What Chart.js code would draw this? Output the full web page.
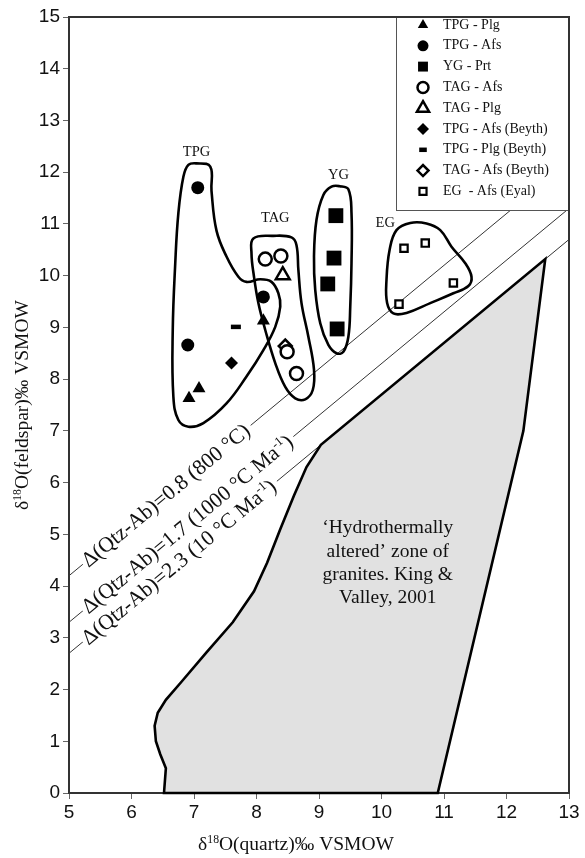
<!DOCTYPE html>
<html>
<head>
<meta charset="utf-8">
<script src="https://cdn.jsdelivr.net/npm/chart.js@4/dist/chart.umd.min.js"></script>
<style>
  html, body { margin: 0; padding: 0; background: #fff; }
  canvas { display: block; }
</style>
</head>
<body>
<canvas id="chart" width="585" height="858"></canvas>
<script>
// ---- axis ranges (δ18O, ‰ VSMOW) ----
const qtzRange = [5, 13];
const fspRange = [0, 15];

// ---- mineral pairs: quartz (x) vs feldspar (y) ----
const seriesNames = ['TPG - Plg', 'TPG - Afs', 'YG - Prt', 'TAG - Afs', 'TAG - Plg',
  'TPG - Afs (Beyth)', 'TPG - Plg (Beyth)', 'TAG - Afs (Beyth)', 'EG  - Afs (Eyal)'];

const tpgPlgQtz = [6.92, 7.08, 8.11];
const tpgPlgFsp = [7.63, 7.82, 9.13];
const tpgAfsQtz = [7.06, 8.11, 6.90];
const tpgAfsFsp = [11.70, 9.59, 8.66];
const ygPrtQtz = [9.27, 9.24, 9.14, 9.29];
const ygPrtFsp = [11.16, 10.34, 9.84, 8.97];
const tagAfsQtz = [8.14, 8.39, 8.49, 8.64];
const tagAfsFsp = [10.32, 10.38, 8.53, 8.11];
const tagPlgQtz = [8.42];
const tagPlgFsp = [10.01];
const tpgAfsBeythQtz = [7.60];
const tpgAfsBeythFsp = [8.31];
const tpgPlgBeythQtz = [7.67];
const tpgPlgBeythFsp = [9.01];
const tagAfsBeythQtz = [8.46];
const tagAfsBeythFsp = [8.64];
const egAfsEyalQtz = [10.36, 10.70, 11.15, 10.28];
const egAfsEyalFsp = [10.53, 10.63, 9.86, 9.45];

// ---- group envelopes (closed outlines) ----
const tpgEnvQtz = [7.04, 7.26, 7.28, 7.36, 7.52, 7.71, 7.84, 8.06, 8.24, 8.35, 8.38, 8.30, 8.11, 7.84, 7.52, 7.15, 6.91, 6.75, 6.67, 6.66, 6.70, 6.75, 6.83, 6.91];
const tpgEnvFsp = [12.17, 12.11, 11.64, 10.87, 10.37, 9.98, 9.88, 9.93, 9.88, 9.66, 9.40, 9.01, 8.56, 8.05, 7.53, 7.15, 7.08, 7.21, 7.66, 8.95, 10.24, 11.21, 11.91, 12.14];
const tagEnvQtz = [7.95, 8.27, 8.56, 8.64, 8.67, 8.72, 8.83, 8.92, 8.90, 8.78, 8.62, 8.46, 8.30, 8.14, 8.03, 7.96, 7.92];
const tagEnvFsp = [10.72, 10.77, 10.74, 10.59, 10.11, 9.47, 8.82, 8.18, 7.79, 7.61, 7.63, 7.85, 8.31, 8.95, 9.47, 9.98, 10.43];
const ygEnvQtz = [9.33, 9.47, 9.52, 9.52, 9.50, 9.47, 9.39, 9.28, 9.15, 9.02, 8.94, 8.92, 8.96, 9.07, 9.20];
const ygEnvFsp = [11.73, 11.67, 11.21, 10.24, 9.40, 8.82, 8.53, 8.50, 8.66, 9.08, 9.72, 10.37, 11.08, 11.56, 11.72];
const egEnvQtz = [10.24, 10.46, 10.72, 10.94, 11.12, 11.34, 11.44, 11.39, 11.15, 10.78, 10.40, 10.19, 10.09, 10.08, 10.13];
const egEnvFsp = [10.88, 11.02, 11.01, 10.88, 10.56, 10.24, 9.98, 9.80, 9.66, 9.47, 9.28, 9.27, 9.47, 9.92, 10.50];
const groupNames = ['TPG', 'TAG', 'YG', 'EG'];

// ---- hydrothermally altered field (King & Valley, 2001) ----
const alteredQtz = [6.52, 6.55, 6.46, 6.39, 6.37, 6.42, 6.55, 6.80, 7.20, 7.62, 7.96, 8.17, 8.38, 8.60, 8.80, 9.03, 12.62, 12.27, 10.90];
const alteredFsp = [0, 0.48, 0.75, 1.00, 1.30, 1.55, 1.80, 2.15, 2.72, 3.30, 3.90, 4.45, 5.10, 5.75, 6.30, 6.73, 10.32, 7.00, 0];
const alteredText = ['\u2018Hydrothermally', 'altered\u2019 zone of', 'granites. King &', 'Valley, 2001'];

// ---- equilibrium fractionation lines Δ(Qtz-Ab) ----
const deltaQtzAb = [0.8, 1.7, 2.3];
const deltaNotes = ['(800 \u00B0C)', '(1000 \u00B0C Ma', '(10 \u00B0C Ma'];

// ---------------------------------------------------------------
const SERIF = '"Liberation Serif", "Times New Roman", serif';
const SANS = '"Liberation Sans", Arial, sans-serif';
const pts = (xs, ys) => xs.map((x, i) => ({ x, y: ys[i] }));

// line controller that closes its path (and can fill the inside)
class LoopController extends Chart.LineController {
  update(mode) {
    super.update(mode);
    const line = this._cachedMeta.dataset;
    line._loop = true;
    line._fullLoop = true;
    delete line._segments;
    delete line._path;
    line._pointsUpdated = false;
  }
  draw() {
    const meta = this._cachedMeta;
    const fillColor = this.getDataset().areaColor;
    if (fillColor) {
      const ctx = this.chart.ctx;
      meta.dataset.updateControlPoints(this.chart.chartArea, meta.iScale.axis);
      ctx.save();
      ctx.beginPath();
      meta.dataset.path(ctx);
      ctx.closePath();
      ctx.fillStyle = fillColor;
      ctx.fill();
      ctx.restore();
    }
    super.draw();
  }
}
LoopController.id = 'loop';
LoopController.defaults = Object.assign({}, Chart.LineController.defaults);
Chart.register(LoopController);

// marker look for each series
const markers = [
  { pointStyle: 'triangle', radius: 7.5, fill: '#000', bw: 0, legendR: 6 },
  { pointStyle: 'circle', radius: 6.5, fill: '#000', bw: 0, legendR: 5.5 },
  { pointStyle: 'rect', radius: 10.5, fill: '#000', bw: 0, legendR: 7 },
  { pointStyle: 'circle', radius: 6.5, fill: '#fff', bw: 2.5, legendR: 5.5 },
  { pointStyle: 'triangle', radius: 8, fill: '#fff', bw: 2.5, legendR: 7 },
  { pointStyle: 'rectRot', radius: 6.5, fill: '#000', bw: 0, legendR: 6 },
  { pointStyle: 'line', radius: 5, fill: '#000', bw: 4.5, legendR: 3.8 },
  { pointStyle: 'rectRot', radius: 6.5, fill: '#fff', bw: 2.5, legendR: 5.5 },
  { pointStyle: 'rect', radius: 5.2, fill: '#fff', bw: 2.2, legendR: 5 }
];
const seriesData = [
  pts(tpgPlgQtz, tpgPlgFsp), pts(tpgAfsQtz, tpgAfsFsp), pts(ygPrtQtz, ygPrtFsp),
  pts(tagAfsQtz, tagAfsFsp), pts(tagPlgQtz, tagPlgFsp), pts(tpgAfsBeythQtz, tpgAfsBeythFsp),
  pts(tpgPlgBeythQtz, tpgPlgBeythFsp), pts(tagAfsBeythQtz, tagAfsBeythFsp), pts(egAfsEyalQtz, egAfsEyalFsp)
];

const datasets = [];
seriesNames.forEach((name, i) => {
  const m = markers[i];
  datasets.push({
    type: 'scatter', label: name, data: seriesData[i], order: 0,
    pointStyle: m.pointStyle, pointRadius: m.radius, pointHoverRadius: m.radius,
    pointBackgroundColor: m.fill, pointBorderColor: '#000', pointBorderWidth: m.bw,
    pointHoverBorderWidth: m.bw
  });
});
[[tpgEnvQtz, tpgEnvFsp], [tagEnvQtz, tagEnvFsp], [ygEnvQtz, ygEnvFsp], [egEnvQtz, egEnvFsp]].forEach((e, i) => {
  datasets.push({
    type: 'loop', label: groupNames[i], data: pts(e[0], e[1]), order: 1,
    borderColor: '#000', borderWidth: 2.6, tension: 0.4, pointRadius: 0, fill: false, clip: false
  });
});
datasets.push({
  type: 'loop', label: 'altered', data: pts(alteredQtz, alteredFsp), order: 2,
  borderColor: '#000', borderWidth: 2.6, tension: 0, pointRadius: 0, fill: false,
  areaColor: '#e1e1e1', clip: false
});
deltaQtzAb.forEach(d => {
  datasets.push({
    type: 'line', label: 'delta ' + d, order: 3,
    data: [{ x: qtzRange[0], y: qtzRange[0] - d }, { x: qtzRange[1], y: qtzRange[1] - d }],
    borderColor: '#333', borderWidth: 1, pointRadius: 0, fill: false
  });
});

// text made of plain and superscript parts, drawn on an alphabetic baseline
function partsWidth(ctx, parts, size) {
  let w = 0;
  for (const p of parts) {
    ctx.font = (p.sup ? size * 0.6 : size) + 'px ' + SERIF;
    w += ctx.measureText(p.t).width;
  }
  return w;
}
function drawParts(ctx, parts, x, y, size) {
  let cx = x;
  for (const p of parts) {
    ctx.font = (p.sup ? size * 0.6 : size) + 'px ' + SERIF;
    ctx.fillText(p.t, cx, p.sup ? y - size * 0.38 : y);
    cx += ctx.measureText(p.t).width;
  }
}

const decorations = {
  id: 'decorations',
  afterDatasetsDraw(chart) {
    const ctx = chart.ctx;
    const xs = chart.scales.x, ys = chart.scales.y;
    ctx.save();
    ctx.textAlign = 'left';
    ctx.textBaseline = 'alphabetic';
    ctx.fillStyle = '#111';

    // labels along the Δ lines
    const size = 21.5;
    const labels = deltaQtzAb.map((d, i) => {
      const parts = [{ t: '\u0394(Qtz-Ab)=' + d.toFixed(1) + ' ' + deltaNotes[i] }];
      if (i > 0) parts.push({ t: '-1', sup: true });
      if (i > 0) parts.push({ t: ')' });
      const x0 = 5.22;
      const px = xs.getPixelForValue(x0), py = ys.getPixelForValue(x0 - d);
      const ang = Math.atan2(ys.getPixelForValue(x0 + 1 - d) - py, xs.getPixelForValue(x0 + 1) - px);
      return { parts, px, py, ang, w: partsWidth(ctx, parts, size) };
    });
    labels.forEach(l => {
      ctx.save();
      ctx.translate(l.px, l.py);
      ctx.rotate(l.ang);
      ctx.fillStyle = '#fff';
      ctx.fillRect(0, -10, l.w + 6, 20);
      ctx.restore();
    });
    labels.forEach(l => {
      ctx.save();
      ctx.translate(l.px, l.py);
      ctx.rotate(l.ang);
      ctx.fillStyle = '#111';
      drawParts(ctx, l.parts, 2, size * 0.3, size);
      ctx.restore();
    });

    // group names
    const groupAt = [[7.04, 12.39], [8.30, 11.11], [9.31, 11.95], [10.06, 11.01]];
    ctx.font = '14.5px ' + SERIF;
    ctx.textAlign = 'center';
    ctx.textBaseline = 'middle';
    groupNames.forEach((g, i) => {
      ctx.fillText(g, xs.getPixelForValue(groupAt[i][0]), ys.getPixelForValue(groupAt[i][1]));
    });

    // caption inside the altered field
    ctx.font = '19.5px ' + SERIF;
    const cx = xs.getPixelForValue(10.1), cy = ys.getPixelForValue(5.12);
    alteredText.forEach((t, i) => ctx.fillText(t, cx, cy + i * 23.3));
    ctx.restore();
  },
  afterDraw(chart) {
    const ctx = chart.ctx;
    const a = chart.chartArea;
    ctx.save();

    // legend box in the upper right corner
    const bw = 173, bh = 193;
    const bx = a.right - bw, by = a.top;
    ctx.fillStyle = '#fff';
    ctx.fillRect(bx, by, bw, bh);
    ctx.strokeStyle = '#555';
    ctx.lineWidth = 1;
    ctx.strokeRect(bx + 0.5, by + 0.5, bw, bh);
    seriesNames.forEach((name, i) => {
      const m = markers[i];
      const y = by + 8 + i * 20.8;
      ctx.fillStyle = m.fill;
      ctx.strokeStyle = '#000';
      ctx.lineWidth = m.bw;
      Chart.helpers.drawPoint(ctx, { pointStyle: m.pointStyle, radius: m.legendR, borderWidth: m.bw, rotation: 0 }, bx + 27, y);
      ctx.fillStyle = '#111';
      ctx.font = '14px ' + SERIF;
      ctx.textAlign = 'left';
      ctx.textBaseline = 'middle';
      ctx.fillText(name, bx + 47, y);
    });

    // top and right frame
    ctx.strokeStyle = '#333';
    ctx.lineWidth = 2;
    ctx.beginPath();
    ctx.moveTo(a.left, a.top);
    ctx.lineTo(a.right, a.top);
    ctx.lineTo(a.right, a.bottom);
    ctx.stroke();

    // axis titles
    ctx.fillStyle = '#111';
    ctx.textAlign = 'left';
    ctx.textBaseline = 'alphabetic';
    const tsize = 19.5;
    const xt = [{ t: '\u03B4' }, { t: '18', sup: true }, { t: 'O(quartz)\u2030 VSMOW' }];
    const xw = partsWidth(ctx, xt, tsize);
    drawParts(ctx, xt, 296 - xw / 2, 850, tsize);
    const yt = [{ t: '\u03B4' }, { t: '18', sup: true }, { t: 'O(feldspar)\u2030 VSMOW' }];
    const yw = partsWidth(ctx, yt, tsize);
    ctx.translate(28, (a.top + a.bottom) / 2);
    ctx.rotate(-Math.PI / 2);
    drawParts(ctx, yt, -yw / 2, 0, tsize);
    ctx.restore();
  }
};

const tickFont = { family: SANS, size: 19 };
new Chart(document.getElementById('chart'), {
  type: 'scatter',
  data: { datasets },
  options: {
    responsive: false,
    animation: false,
    devicePixelRatio: 1,
    events: [],
    layout: { padding: { top: 17, right: 16, left: 0, bottom: 0 } },
    plugins: { legend: { display: false }, tooltip: { enabled: false } },
    scales: {
      x: {
        type: 'linear', min: qtzRange[0], max: qtzRange[1],
        afterFit(scale) { scale.height = 65; },
        ticks: { stepSize: 1, font: tickFont, color: '#111', padding: 2, maxRotation: 0, autoSkip: false },
        grid: { drawOnChartArea: false, drawTicks: true, tickLength: 6, color: '#666', lineWidth: 1 },
        border: { display: true, color: '#333', width: 2 }
      },
      y: {
        type: 'linear', min: fspRange[0], max: fspRange[1],
        afterFit(scale) { scale.width = 69; },
        ticks: { stepSize: 1, font: tickFont, color: '#111', padding: 3, autoSkip: false },
        grid: { drawOnChartArea: false, drawTicks: true, tickLength: 6, color: '#666', lineWidth: 1 },
        border: { display: true, color: '#333', width: 2 }
      }
    }
  },
  plugins: [decorations]
});
</script>
</body>
</html>
